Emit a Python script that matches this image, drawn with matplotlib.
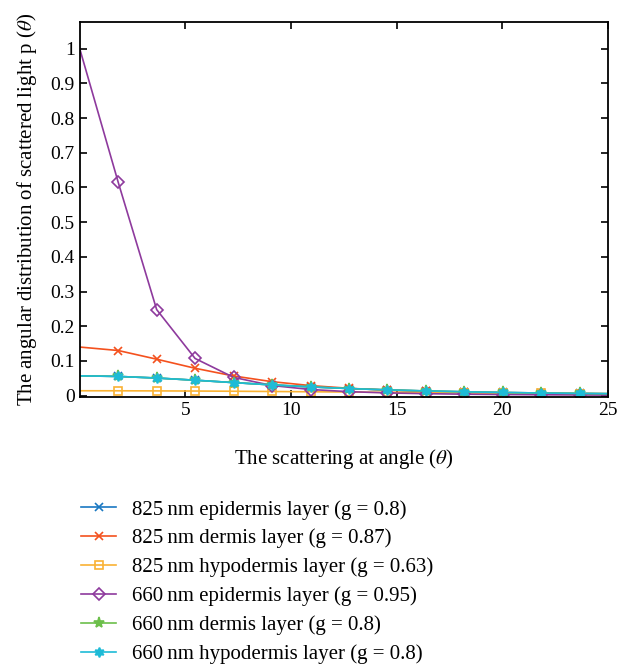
import matplotlib
matplotlib.use("Agg")
import matplotlib.pyplot as plt

plt.rcParams['font.family'] = ['Liberation Serif', 'DejaVu Serif']
plt.rcParams['mathtext.fontset'] = 'stix'

# scattering angle (deg) at each sample
angle = [0.0, 1.82, 3.64, 5.46, 7.28, 9.10, 10.92, 12.74, 14.56, 16.38,
         18.20, 20.02, 21.84, 23.66, 25.48]

epi_825 = [0.057, 0.0553, 0.0507, 0.0444, 0.0375, 0.0309, 0.0252, 0.0204,
           0.0165, 0.0134, 0.0110, 0.0090, 0.0075, 0.0063, 0.0053]
derm_825 = [0.140, 0.130, 0.105, 0.0788, 0.0566, 0.0402, 0.0289, 0.0211,
            0.0157, 0.0119, 0.0092, 0.0072, 0.0058, 0.0047, 0.0038]
hypo_825 = [0.0140, 0.0139, 0.0136, 0.0132, 0.0126, 0.0119, 0.0111, 0.0103,
            0.0095, 0.0087, 0.0079, 0.0072, 0.0065, 0.0059, 0.0054]
epi_660 = [1.0, 0.615, 0.248, 0.107, 0.0526, 0.0291, 0.0176, 0.0114,
           0.0078, 0.0056, 0.0041, 0.0031, 0.0024, 0.0019, 0.0015]
derm_660 = [0.057, 0.0553, 0.0507, 0.0444, 0.0375, 0.0309, 0.0252, 0.0204,
            0.0165, 0.0134, 0.0110, 0.0090, 0.0075, 0.0063, 0.0053]
hypo_660 = [0.057, 0.0553, 0.0507, 0.0444, 0.0375, 0.0309, 0.0252, 0.0204,
            0.0165, 0.0134, 0.0110, 0.0090, 0.0075, 0.0063, 0.0053]

labels = ["825\u2009nm epidermis layer (g = 0.8)",
          "825\u2009nm dermis layer (g = 0.87)",
          "825\u2009nm hypodermis layer (g = 0.63)",
          "660\u2009nm epidermis layer (g = 0.95)",
          "660\u2009nm dermis layer (g = 0.8)",
          "660\u2009nm hypodermis layer (g = 0.8)"]

series = [epi_825, derm_825, hypo_825, epi_660, derm_660, hypo_660]
colors = ['#1a78c2', '#f4511e', '#f9b233', '#8e3a9d', '#6cbf4a', '#1ebbd7']
markers = ['x', 'x', 's', 'D', '*', (6, 1, 0)]
msizes = [6, 6, 6, 6, 8, 7]
fills = ['full', 'full', 'none', 'none', 'full', 'full']

fig = plt.figure(figsize=(6.18, 6.65), dpi=100)
ax = fig.add_axes([0.129, 0.403, 0.855, 0.564])

for ys, c, m, ms, fs, lab in zip(series, colors, markers, msizes, fills, labels):
    ax.plot(angle, ys, color=c, marker=m, markersize=ms, fillstyle=fs,
            markevery=list(range(1, len(angle))), lw=1.2, mew=1.2, label=lab)

ax.set_xlim(0, 25)
ax.set_ylim(-0.004, 1.077)
ax.set_xticks([5, 10, 15, 20, 25])
ax.set_yticks([0, 0.1, 0.2, 0.3, 0.4, 0.5, 0.6, 0.7, 0.8, 0.9, 1.0])
ax.set_yticklabels(['0', '0.1', '0.2', '0.3', '0.4', '0.5', '0.6', '0.7',
                    '0.8', '0.9', '1'])
ax.tick_params(direction='in', top=True, right=True, labelsize=14,
               length=5, width=1.2)
for s in ax.spines.values():
    s.set_linewidth(1.3)

ax.set_xlabel(r"The scattering at angle ($\theta$)", fontsize=15, labelpad=20)
ax.set_ylabel(r"The angular distribution of scattered light p ($\theta$)",
              fontsize=15, labelpad=8)

ax.legend(loc='upper left', bbox_to_anchor=(0.114, 0.264),
          bbox_transform=fig.transFigure, frameon=False, fontsize=15,
          handlelength=1.7, handletextpad=0.75, labelspacing=0.44,
          borderpad=0)

fig.savefig("out.png", dpi=100)
